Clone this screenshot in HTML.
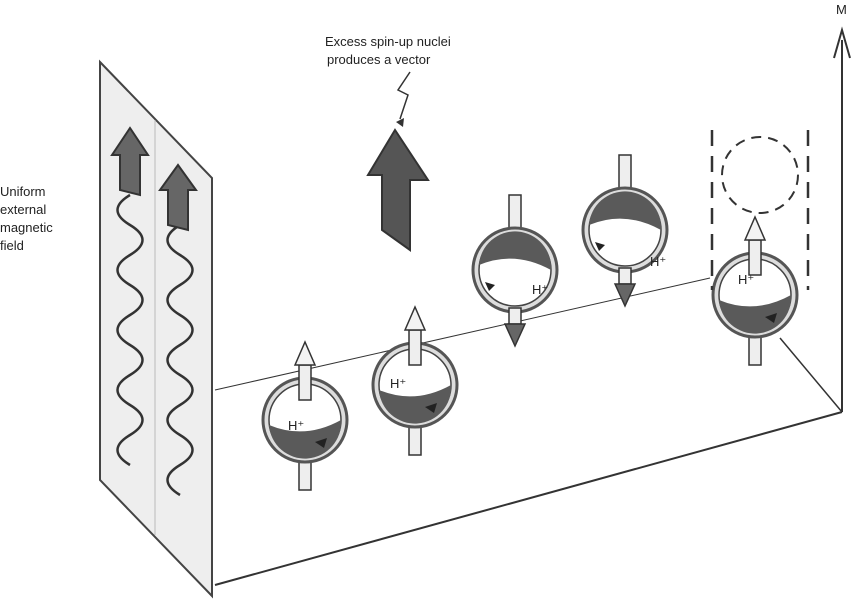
<!DOCTYPE html>
<html><head><style>
body{margin:0;background:#fff;}
svg{display:block;}
text{font-family:"Liberation Sans",sans-serif;fill:#222;}
</style></head><body>
<svg width="859" height="600" viewBox="0 0 859 600" xmlns="http://www.w3.org/2000/svg">
<defs>
<radialGradient id="sph" cx="0.4" cy="0.3" r="0.8">
<stop offset="0" stop-color="#fff"/><stop offset="0.5" stop-color="#eee"/><stop offset="1" stop-color="#999"/>
</radialGradient>
<symbol id="upS" viewBox="-50 -90 100 170" overflow="visible">
<rect x="-6" y="30" width="12" height="40" fill="#eee" stroke="#333" stroke-width="1.5"/>
<circle r="42" fill="#ddd" stroke="#555" stroke-width="3"/>
<circle r="36" fill="#fff" stroke="#444" stroke-width="1.5"/>
<path d="M-36,5 Q0,20 36,0 A36,36 0 0 1 -36,5Z" fill="#5a5a5a"/>
<path d="M10,22 l12,-4 l-3,10z" fill="#222"/>
<rect x="-6" y="-55" width="12" height="35" fill="#eee" stroke="#333" stroke-width="1.5"/>
<path d="M-10,-55 L0,-78 L10,-55Z" fill="#f3f3f3" stroke="#333" stroke-width="1.5"/>
</symbol>
<symbol id="dnS" viewBox="-50 -90 100 170" overflow="visible">
<rect x="-6" y="-75" width="12" height="40" fill="#eee" stroke="#333" stroke-width="1.5"/>
<circle r="42" fill="#ddd" stroke="#555" stroke-width="3"/>
<circle r="36" fill="#fff" stroke="#444" stroke-width="1.5"/>
<path d="M-36,-5 Q0,-20 36,0 A36,36 0 0 0 -36,-5Z" fill="#5a5a5a"/>
<path d="M-20,15 l-10,-3 l4,9z" fill="#222"/>
<rect x="-6" y="38" width="12" height="16" fill="#eee" stroke="#333" stroke-width="1.5"/>
<path d="M-10,54 L0,76 L10,54Z" fill="#666" stroke="#333" stroke-width="1.5"/>
</symbol>
</defs>
<!-- floor -->
<line x1="215" y1="390" x2="710" y2="278" stroke="#333" stroke-width="1"/>
<line x1="215" y1="585" x2="842" y2="412" stroke="#333" stroke-width="2"/>
<line x1="780" y1="338" x2="842" y2="412" stroke="#333" stroke-width="1.5"/>
<line x1="842" y1="412" x2="842" y2="40" stroke="#333" stroke-width="2"/>
<path d="M834,58 L842,30 L850,58" fill="none" stroke="#333" stroke-width="2"/>
<text x="836" y="14" font-size="13">M</text>
<!-- panel -->
<path d="M100,62 L212,178 L212,596 L100,480Z" fill="#eee" stroke="#444" stroke-width="2"/>
<path d="M155,120 L155,535" stroke="#bbb" stroke-width="1"/>
<path d="M130,195 q-25,15 0,30 q25,15 0,30 q-25,15 0,30 q25,15 0,30 q-25,15 0,30 q25,15 0,30 q-25,15 0,30 q25,15 0,30 q-25,15 0,30" fill="none" stroke="#333" stroke-width="2.5"/>
<path d="M180,225 q-25,15 0,30 q25,15 0,30 q-25,15 0,30 q25,15 0,30 q-25,15 0,30 q25,15 0,30 q-25,15 0,30 q25,15 0,30 q-25,15 0,30" fill="none" stroke="#333" stroke-width="2.5"/>
<path d="M120,190 L120,155 L112,155 L130,128 L148,155 L140,155 L140,195Z" fill="#666" stroke="#333" stroke-width="2"/>
<path d="M168,225 L168,190 L160,190 L178,165 L196,190 L188,190 L188,230Z" fill="#666" stroke="#333" stroke-width="2"/>
<text font-size="13"><tspan x="0" y="196">Uniform</tspan><tspan x="0" y="214">external</tspan><tspan x="0" y="232">magnetic</tspan><tspan x="0" y="250">field</tspan></text>
<!-- vector -->
<text font-size="13"><tspan x="325" y="46">Excess spin-up nuclei</tspan><tspan x="327" y="64">produces a vector</tspan></text>
<path d="M410,72 l-12,18 l10,5 l-8,24" fill="none" stroke="#333" stroke-width="1.5"/>
<path d="M396,122 l8,-4 l-1,9" fill="#333"/>
<path d="M382,230 L382,175 L368,175 L395,130 L428,180 L410,180 L410,250Z" fill="#555" stroke="#333" stroke-width="2"/>
<!-- spheres -->
<use href="#upS" x="255" y="330" width="100" height="170"/>
<use href="#upS" x="365" y="295" width="100" height="170"/>
<use href="#dnS" x="465" y="180" width="100" height="170"/>
<use href="#dnS" x="575" y="140" width="100" height="170"/>
<use href="#upS" x="705" y="205" width="100" height="170"/>
<circle cx="760" cy="175" r="38" fill="none" stroke="#333" stroke-width="2" stroke-dasharray="10,7"/>
<line x1="712" y1="130" x2="712" y2="290" stroke="#333" stroke-width="2.5" stroke-dasharray="16,10"/>
<line x1="808" y1="130" x2="808" y2="290" stroke="#333" stroke-width="2.5" stroke-dasharray="16,10"/>
<g font-size="13"><text x="288" y="430">H⁺</text><text x="390" y="388">H⁺</text><text x="532" y="294">H⁺</text><text x="650" y="266">H⁺</text><text x="738" y="284">H⁺</text></g>
</svg>
</body></html>
